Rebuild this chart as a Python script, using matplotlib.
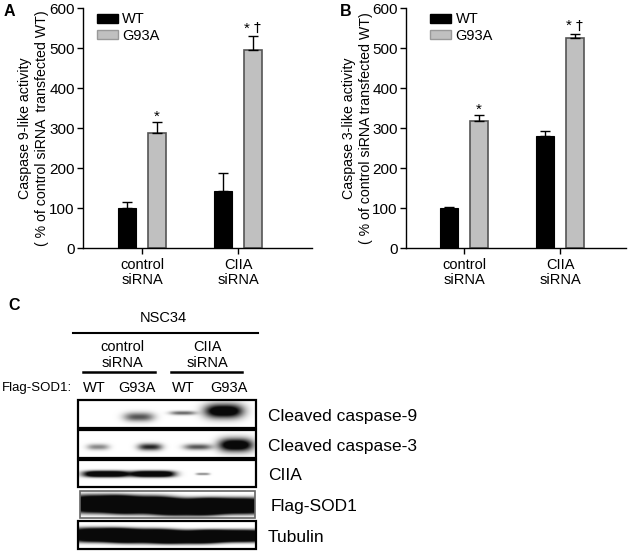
import matplotlib
matplotlib.use("Agg")
import matplotlib.pyplot as plt
import numpy as np
from matplotlib.patches import Rectangle, Patch

plt.rcParams['font.family'] = ['Liberation Sans', 'DejaVu Sans']
plt.rcParams['font.size'] = 10

# --- data -------------------------------------------------------------
groups = ['control\nsiRNA', 'CIIA\nsiRNA']
series = ['WT', 'G93A']

casp9_wt = [100, 143]
casp9_wt_err = [15, 44]
casp9_g93a = [288, 496]
casp9_g93a_err = [28, 33]

casp3_wt = [100, 280]
casp3_wt_err = [2, 12]
casp3_g93a = [318, 524]
casp3_g93a_err = [14, 11]

# significance marks above the G93A bars
casp9_marks = [['*'], ['*', '\u2020']]
casp3_marks = [['*'], ['*', '\u2020']]

# western blot (panel C): relative band intensity per lane
lanes = ['WT', 'G93A', 'WT', 'G93A']
blot_rows = ['Cleaved caspase-9', 'Cleaved caspase-3', 'CIIA', 'Flag-SOD1', 'Tubulin']
band_casp9 = [0.0, 0.5, 0.45, 1.0]
band_casp3 = [0.35, 0.65, 0.5, 1.0]
band_ciia = [1.0, 1.0, 0.3, 0.0]
band_sod1 = [1.0, 1.0, 1.0, 1.0]
band_tub = [1.0, 1.0, 1.0, 1.0]

W, H = 628, 552
fig = plt.figure(figsize=(W / 100, H / 100), dpi=100)


def bar_panel(rect, wt, wt_err, g, g_err, marks, ylab1, ylab2, lab_x, xlim, leg_x):
    ax = fig.add_axes(rect)
    x = np.arange(len(groups))
    off, bw = 0.155, 0.19
    ax.bar(x - off, wt, bw, color='black', edgecolor='black', lw=0.8,
           yerr=[np.zeros(len(wt)), wt_err], capsize=3.5,
           error_kw=dict(lw=1, capthick=1, ecolor='black'))
    ax.bar(x + off, g, bw, color='#c0c0c0', edgecolor='#555555', lw=1.2,
           yerr=[np.zeros(len(g)), g_err], capsize=3.5,
           error_kw=dict(lw=1, capthick=1, ecolor='black'))
    for xi, v, e, m in zip(x, g, g_err, marks):
        top = v + e
        if len(m) == 1:
            ax.text(xi + off, top + 3, m[0], ha='center', va='baseline',
                    fontsize=11)
        else:
            ax.text(xi + off - 0.065, top + 10, m[0], ha='center',
                    va='baseline', fontsize=11)
            ax.text(xi + off + 0.047, top + 20, m[1], ha='center',
                    va='center', fontsize=10, family='DejaVu Sans')
    ax.set_ylim(0, 600)
    ax.set_xlim(*xlim)
    ax.set_yticks(range(0, 601, 100))
    ax.set_xticks(x)
    ax.set_xticklabels(groups, linespacing=1.1, fontsize=10.5)
    ax.tick_params(axis='both', length=4, width=1, direction='out')
    ax.tick_params(axis='y', labelsize=11, pad=2)
    ax.tick_params(axis='x', pad=3)
    for s in ['top', 'right']:
        ax.spines[s].set_visible(False)
    for s in ['left', 'bottom']:
        ax.spines[s].set_linewidth(1)
    # two-line axis title, drawn as two rotated texts
    ax.text(lab_x[0], 0.5, ylab1, rotation=90, ha='center', va='center',
            transform=ax.transAxes, fontsize=10.2)
    ax.text(lab_x[1], 0.5, ylab2, rotation=90, ha='center', va='center',
            transform=ax.transAxes, fontsize=10.2)
    handles = [Patch(facecolor='black', edgecolor='black'),
               Patch(facecolor='#c0c0c0', edgecolor='#999999')]
    ax.legend(handles, series, loc='upper left', bbox_to_anchor=(leg_x, 1.0),
              frameon=False, handlelength=1.45, handleheight=0.6,
              handletextpad=0.3, labelspacing=0.15, borderaxespad=0.3,
              borderpad=0, fontsize=10.5)
    return ax


axA = bar_panel([83 / W, 1 - 248 / H, 229 / W, 240 / H],
                casp9_wt, casp9_wt_err, casp9_g93a, casp9_g93a_err, casp9_marks,
                'Caspase 9-like activity',
                '( % of control siRNA  transfected WT)',
                ((25 - 83) / 229, (42 - 83) / 229), (-0.615, 1.77), 0.04)
axB = bar_panel([406 / W, 1 - 248 / H, 220 / W, 240 / H],
                casp3_wt, casp3_wt_err, casp3_g93a, casp3_g93a_err, casp3_marks,
                'Caspase 3-like activity',
                '( % of control siRNA transfected WT)',
                ((349 - 406) / 220, (366 - 406) / 220), (-0.604, 1.687), 0.09)

fig.text(4 / W, 1 - 12 / H, 'A', fontsize=11.5, fontweight='bold', va='center')
fig.text(340 / W, 1 - 11 / H, 'B', fontsize=11.5, fontweight='bold', va='center')

# --- panel C: drawn in figure pixel coordinates ------------------------
axc = fig.add_axes([0, 0, 1, 1], zorder=-1)
axc.axis('off')

axc.text(8, 305, 'C', fontsize=11.5, fontweight='bold', va='center')
axc.text(163, 318, 'NSC34', ha='center', va='center', fontsize=10.5)
axc.plot([73, 258], [333, 333], color='black', lw=1.5)
axc.text(122, 355, 'control\nsiRNA', ha='center', va='center', linespacing=1.1,
         fontsize=10.5)
axc.text(207, 355, 'CIIA\nsiRNA', ha='center', va='center', linespacing=1.1,
         fontsize=10.5)
axc.plot([83, 155], [372, 372], color='black', lw=1.8)
axc.plot([171, 242], [372, 372], color='black', lw=1.8)
axc.text(2, 388, 'Flag-SOD1:', ha='left', va='center', fontsize=9.5)

lane_x = 98 + 45 * np.arange(len(lanes))
lane_lbl_x = [94, 137, 183, 229]
for lx, name in zip(lane_lbl_x, lanes):
    axc.text(lx, 388, name, ha='center', va='center', fontsize=10.5)

boxes = [(78, 400, 256, 428), (78, 430, 256, 458), (78, 460, 256, 487),
         (80, 491, 255, 518), (78, 521, 256, 549)]
bands = [band_casp9, band_casp3, band_ciia, band_sod1, band_tub]
band_dx = [[14, 15, 13, 19], [11, 12, 14, 17], [23, 22, 7, 1],
           [30, 30, 30, 36], [30, 30, 30, 36]]
band_dy = [[4, 4.5, 2, 7], [3, 3.5, 3, 6.5], [3.2, 3.2, 1.2, 1],
           [9.5, 9.5, 9, 8.5], [7.5, 7.5, 7, 6.5]]
band_cx_shift = [[0, -4, -5, -9], [0, 7, 10, 3], [8, 10, 15, 0],
                 [0, 0, 0, 4], [0, 0, 0, 4]]
band_cy = [[417, 417, 413, 411], [447, 447, 447, 445], [474, 474, 474, 474],
           [504, 505, 507, 506], [535, 536, 537, 536]]
# profile exponents (x, y) and gain per row
band_pow = [(3, 2), (3, 2), (4, 2.5), (3, 4), (3, 4)]
band_gain = [1.4, 1.4, 1.6, 1.5, 1.5]
box_edge = ['black', 'black', 'black', '#666666', 'black']

for (x0, y0, x1, y1), vals, dxs, dys, sh, cys, (px, py), gn, ec, name in zip(
        boxes, bands, band_dx, band_dy, band_cx_shift, band_cy, band_pow,
        band_gain, box_edge, blot_rows):
    xs = np.linspace(x0, x1, (x1 - x0) * 3)
    ys = np.linspace(y0, y1, (y1 - y0) * 3)
    X, Y = np.meshgrid(xs, ys)
    img = np.zeros_like(X)
    for lx, v, dx, dy, s, cy in zip(lane_x, vals, dxs, dys, sh, cys):
        img += v * np.exp(-np.abs((X - lx - s) / dx) ** px
                          - np.abs((Y - cy) / dy) ** py)
    img = np.clip(img * gn, 0, 1) * 0.96
    axc.imshow(img, cmap='gray_r', vmin=0, vmax=1, extent=(x0, x1, y1, y0),
               aspect='auto', interpolation='bilinear')
    axc.add_patch(Rectangle((x0, y0), x1 - x0, y1 - y0, fill=False,
                            edgecolor=ec, lw=1.6 if ec == 'black' else 1.2))
    lx_txt = 271 if name == 'Flag-SOD1' else 268
    axc.text(lx_txt, (y0 + y1) / 2 + 2, name, ha='left', va='center', fontsize=12.5)

axc.set_xlim(0, W)
axc.set_ylim(H, 0)

fig.savefig('out.png', dpi=100)
